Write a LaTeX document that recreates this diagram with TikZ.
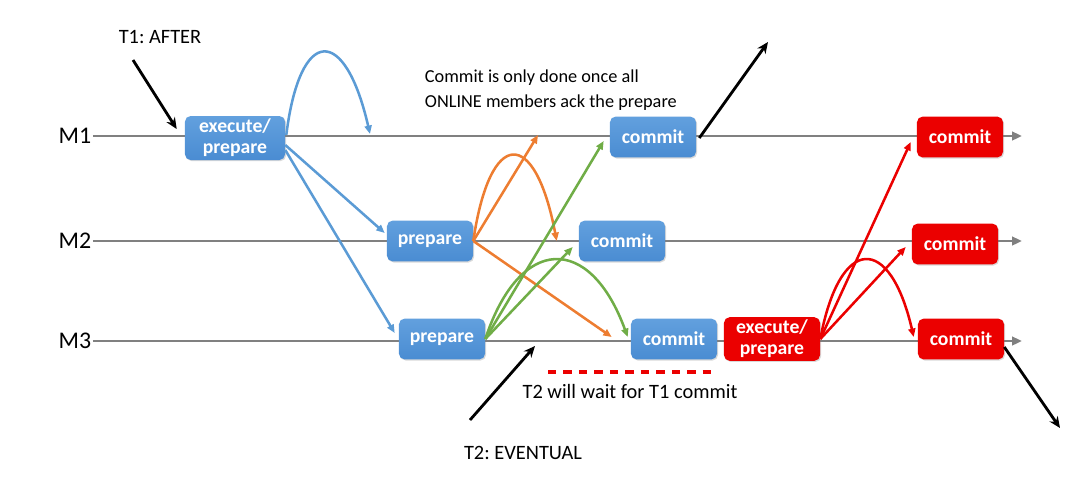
\documentclass[tikz,border=0pt]{standalone}
\usepackage{fontspec}
\setmainfont{Carlito}
\usetikzlibrary{arrows.meta,shadows}

\definecolor{boxblue}{RGB}{74,140,210}
\definecolor{boxbluetop}{RGB}{98,160,222}
\definecolor{boxred}{RGB}{235,0,0}
\definecolor{arrowblue}{RGB}{91,155,213}
\definecolor{arroworange}{RGB}{237,125,49}
\definecolor{arrowgreen}{RGB}{112,173,71}
\definecolor{linegray}{RGB}{128,128,128}

\tikzset{
  member/.style={draw=linegray, line width=1.7pt, -{Triangle[length=7pt,width=6pt]}},
  box/.style={rounded corners=4pt, text=white, font=\fontsize{14}{15}\selectfont\bfseries,
    minimum height=1.02cm, minimum width=2.15cm, inner sep=2pt, align=center,
    drop shadow={opacity=0.3, shadow xshift=0.8pt, shadow yshift=-0.8pt}},
  bluebox/.style={box, top color=boxbluetop, bottom color=boxblue},
  redbox/.style={box, fill=boxred},
  msg/.style={line width=1.8pt, -{Triangle[length=6pt,width=5pt]}},
  pointer/.style={line width=2pt, -{Stealth[length=8pt,width=7pt]}},
  label/.style={font=\fontsize{14.5}{17}\selectfont},
}

\begin{document}
\frenchspacing
\begin{tikzpicture}[x=0.025cm, y=-0.025cm, font=\fontsize{13}{17.5}\selectfont]
    \useasboundingbox (0,0) rectangle (1080,483);

    % Member lines
    \foreach \m/\y in {1/136, 2/241, 3/341} {
        \node[font=\fontsize{17}{20}\selectfont, inner sep=1pt] (m\m) at (75,\y) {M\m};
        \draw[member] (m\m.east) -- (1022,\y);
    }

    % Transaction T1 (blue)
    \node[bluebox, minimum width=2.5cm, minimum height=1.1cm] (exec) at (235,138) {execute/\\prepare};
    \node[bluebox] (prep2) at (430,241) {prepare};
    \node[bluebox] (prep3) at (442,339) {prepare};
    \node[bluebox] (com1) at (653,137) {commit};
    \node[bluebox] (com2) at (622,241) {commit};
    \node[bluebox] (com3) at (674,339) {commit};

    % Transaction T2 (red)
    \node[redbox, minimum width=2.4cm, minimum height=1.05cm] (exec3) at (772,339) {execute/\\prepare};
    \node[redbox] (rcom1) at (960,137) {commit};
    \node[redbox] (rcom2) at (955,244) {commit};
    \node[redbox] (rcom3) at (961,339) {commit};

    % Prepare messages from M1
    \draw[msg, arrowblue] ([shift={(1,-3)}]exec.east) .. controls (300,25) and (345,25) .. (370,134);
    \draw[msg, arrowblue] ([shift={(0,7)}]exec.east) -- ([shift={(-2,-8)}]prep2.west);
    \draw[msg, arrowblue] ([shift={(0,12)}]exec.east) -- ([shift={(-4,-6)}]prep3.west);

    % Acks from M2
    \coordinate (ack1) at (538,135);
    \draw[msg, arroworange] (prep2.east) -- (ack1);
    \draw[msg, arroworange] (prep2.east) .. controls (490,127) and (535,127) .. ([shift={(-22,0)}]com2.west);
    \draw[msg, arroworange] (prep2.east) -- ([shift={(-19,-2)}]com3.west);

    % Acks from M3
    \draw[msg, arrowgreen] (prep3.east) -- ([shift={(-6,4)}]com1.west);
    \draw[msg, arrowgreen] (prep3.east) -- ([shift={(-6,6)}]com2.west);
    \draw[msg, arrowgreen] (prep3.east) .. controls (520,234) and (590,234) .. ([shift={(-3,-2)}]com3.west);

    % T2 messages
    \draw[msg, boxred] (exec3.east) -- ([shift={(-6,5)}]rcom1.west);
    \draw[msg, boxred] (exec3.east) -- ([shift={(-6,3)}]rcom2.west);
    \draw[msg, boxred] (exec3.east) .. controls (840,234) and (890,234) .. ([shift={(-4,-2)}]rcom3.west);

    % Labels and pointers
    \node[label] (t1) at (160,37) {T1: AFTER};
    \coordinate (t1from) at (133,60);
    \draw[pointer] (t1from) -- ([shift={(-8,-9)}]exec.west);

    \node[anchor=west, align=left] (note) at (420,90) {Commit is only done once all\\ONLINE members ack the prepare};
    \coordinate (out1) at (768,42);
    \draw[pointer] ([shift={(3,1)}]com1.east) -- (out1);

    \node[label] (t2) at (523,453) {T2: EVENTUAL};
    \coordinate (t2from) at (470,420);
    \coordinate (t2to) at (535,346);
    \draw[pointer] (t2from) -- (t2to);

    \node[label] (wait) at (630,391) {T2 will wait for T1 commit};
    \coordinate (waitfrom) at (548,372);
    \coordinate (waitto) at (718,372);
    \draw[boxred, line width=2.2pt, dash pattern=on 6pt off 5pt] (waitfrom) -- (waitto);

    \coordinate (out3) at (1060,428);
    \draw[pointer] ([shift={(0,8)}]rcom3.east) -- (out3);

\end{tikzpicture}
\end{document}
